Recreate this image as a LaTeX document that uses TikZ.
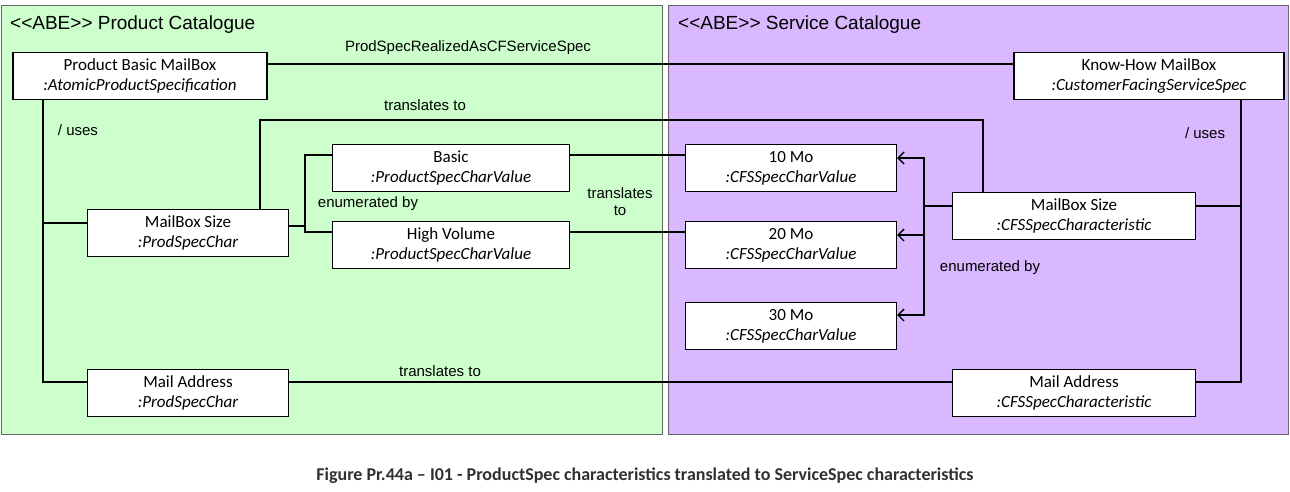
\documentclass[tikz,border=0pt]{standalone}
\usepackage{fontspec}
\setmainfont{Liberation Sans}
\newfontfamily\boxfont{Carlito}
\usetikzlibrary{arrows.meta}
\definecolor{pgreen}{HTML}{CCFFCC}
\definecolor{ppurple}{HTML}{D9B8FF}
\definecolor{capcol}{HTML}{303030}
\tikzset{
  obj/.style={draw, fill=white, line width=1.3pt, inner sep=0pt, anchor=center, align=center, minimum height=47pt, font=\boxfont\fontsize{17}{20}\selectfont},
  conn/.style={line width=1.3pt},
  lbl/.style={font=\fontsize{15}{17}\selectfont, inner sep=0pt},
  pane/.style={draw=black!60, line width=0.6pt},
  ptitle/.style={font=\fontsize{19}{21}\selectfont, anchor=west, inner sep=0pt},
  enumarrow/.style={conn, -{Straight Barb[length=6pt,width=12pt,line width=1.3pt]}}
}
\begin{document}
\begin{tikzpicture}[x=1pt,y=-1pt]
\useasboundingbox (0,0) rectangle (1290,492);
\draw[pane, fill=pgreen] (1,5) rectangle (662,434);
\draw[pane, fill=ppurple] (668,5) rectangle (1288,434);
\node[ptitle] (t1) at (10,25) {<{}<ABE>{}> Product Catalogue};
\node[ptitle] (t2) at (678,25) {<{}<ABE>{}> Service Catalogue};

\node[obj, minimum width=254pt] (pbm) at (140,76) {Product Basic MailBox\\\itshape :AtomicProductSpecification};
\node[obj, minimum width=270pt] (khm) at (1149,76) {Know-How MailBox\\\itshape :CustomerFacingServiceSpec};
\node[obj, minimum width=201pt] (mbsl) at (188,233) {MailBox Size\\\itshape :ProdSpecChar};
\node[obj, minimum width=237pt] (basic) at (451,168) {Basic\\\itshape :ProductSpecCharValue};
\node[obj, minimum width=237pt] (hv) at (451,245) {High Volume\\\itshape :ProductSpecCharValue};
\node[obj, minimum width=211pt] (m10) at (791,168) {10 Mo\\\itshape :CFSSpecCharValue};
\node[obj, minimum width=211pt] (m20) at (791,245) {20 Mo\\\itshape :CFSSpecCharValue};
\node[obj, minimum width=211pt] (m30) at (791,326) {30 Mo\\\itshape :CFSSpecCharValue};
\node[obj, minimum width=243pt] (mbsr) at (1074,216) {MailBox Size\\\itshape :CFSSpecCharacteristic};
\node[obj, minimum width=201pt] (mal) at (188,393) {Mail Address\\\itshape :ProdSpecChar};
\node[obj, minimum width=243pt] (mar) at (1074,393) {Mail Address\\\itshape :CFSSpecCharacteristic};

% realization
\draw[conn] (pbm.east |- 0,64) -- (khm.west |- 0,64);
\node[lbl] (l1) at (468,48) {ProdSpecRealizedAsCFServiceSpec};
% left uses
\coordinate (lu) at (43,382);
\draw[conn] (pbm.south -| 43,0) -- (lu) -- (mal.west |- 0,382);
\draw[conn] (43,223) -- (mbsl.west |- 0,223);
\node[lbl] (l2) at (78,130) {/ uses};
% translates (mailbox size)
\draw[conn] (mbsl.north -| 260,0) -- (260,120) -- (983,120) -- (mbsr.north -| 983,0);
\node[lbl] (l3) at (425,105) {translates to};
% left enumerated
\draw[conn] (mbsl.east |- 0,226) -- (305,226);
\draw[conn] (basic.west |- 0,155) -- (305,155) -- (305,232) -- (hv.west |- 0,232);
\node[lbl] (l4) at (368,204) {enumerated by};
% translates values
\draw[conn] (basic.east |- 0,155) -- (m10.west |- 0,155);
\draw[conn] (hv.east |- 0,232) -- (m20.west |- 0,232);
\node[lbl, align=center] (l5) at (620,202) {translates\\to};
% right enumerated
\draw[conn] (mbsr.west |- 0,206) -- (924,206);
\draw[enumarrow] (924,206) |- (m10.east |- 0,158);
\draw[enumarrow] (924,206) |- (m20.east |- 0,235);
\draw[enumarrow] (924,206) |- (m30.east |- 0,315);
\node[lbl] (l6) at (990,268) {enumerated by};
% right uses
\draw[conn] (khm.south -| 1241,0) -- (1241,382) -- (mar.east |- 0,382);
\draw[conn] (1241,206) -- (mbsr.east |- 0,206);
\node[lbl] (l7) at (1205,133) {/ uses};
% mail translates
\draw[conn] (mal.east |- 0,382) -- (mar.west |- 0,382);
\node[lbl] (l8) at (440,371) {translates to};

\node[font=\boxfont\bfseries\fontsize{18}{21}\selectfont, text=capcol] (cap) at (645,476) {Figure Pr.44a – I01 - ProductSpec characteristics translated to ServiceSpec characteristics};
\end{tikzpicture}
\end{document}
